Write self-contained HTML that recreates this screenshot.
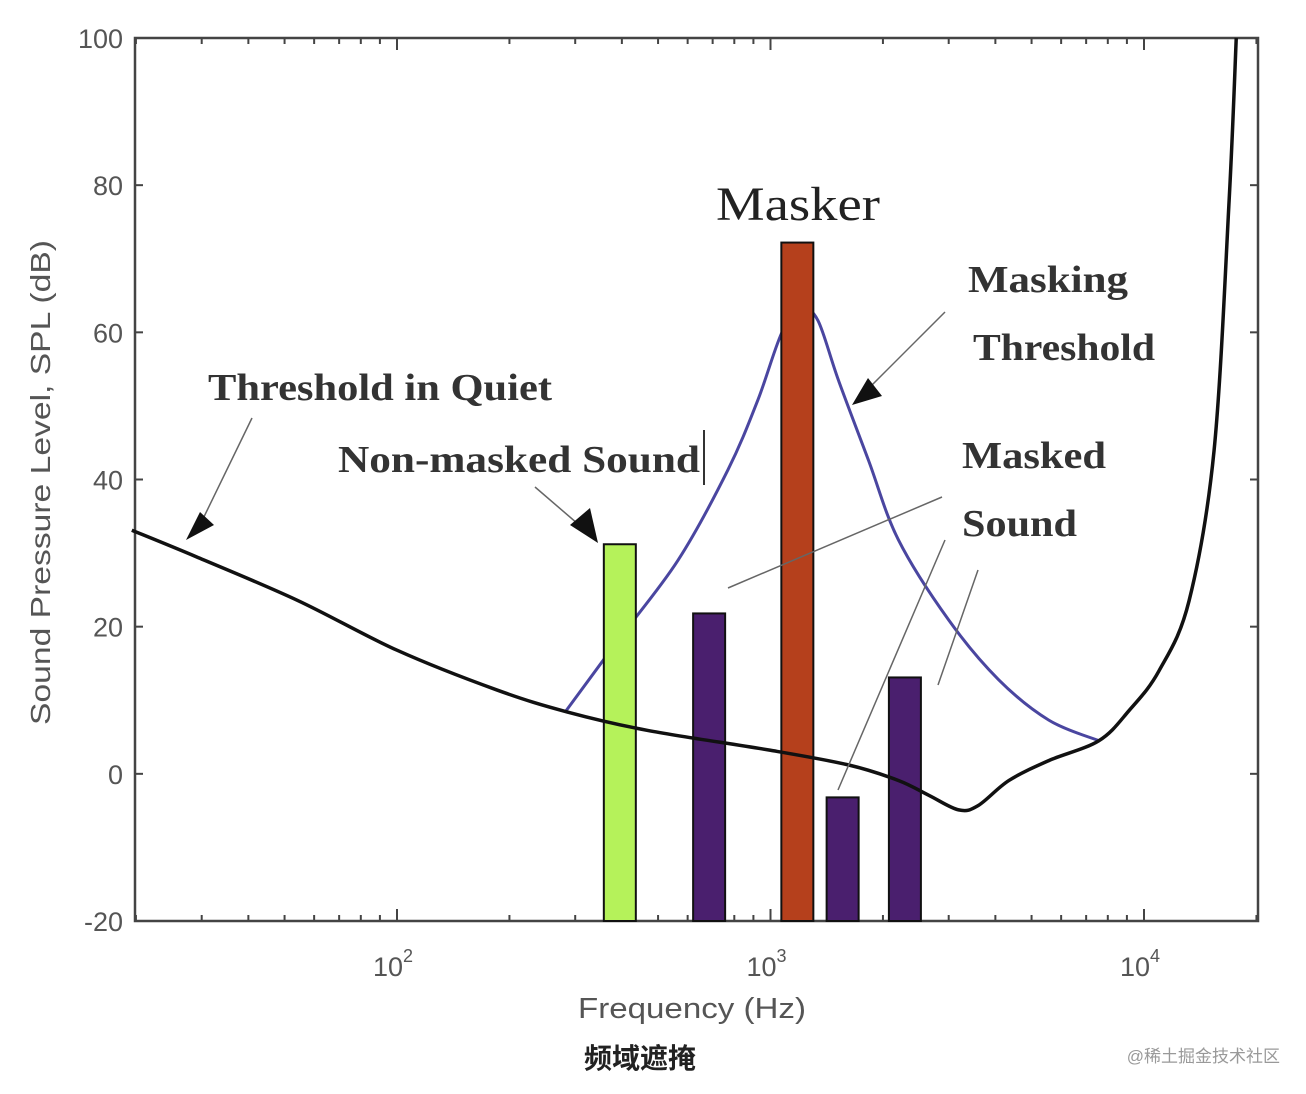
<!DOCTYPE html>
<html><head><meta charset="utf-8"><style>
body{margin:0;background:#fff;width:1306px;height:1094px;overflow:hidden}
svg{display:block}
.tk{font-family:"Liberation Sans",sans-serif;font-size:27px;fill:#555}
.an{font-family:"Liberation Serif",serif;fill:#222}
</style></head><body>
<svg id="chart" width="1306" height="1094">
<g id="grid"></g>
<g id="marks"></g>
<text class="tk" x="578" y="1018" textLength="228" lengthAdjust="spacingAndGlyphs" style="font-size:29px">Frequency (Hz)</text>
<text class="tk" transform="translate(50,725) rotate(-90)" textLength="485" lengthAdjust="spacingAndGlyphs" style="font-size:28px">Sound Pressure Level, SPL (dB)</text>
<text x="640" y="1068" text-anchor="middle" style="font-family:'Liberation Sans','Noto Sans CJK SC',sans-serif;font-size:28px;font-weight:bold;fill:#222">频域遮掩</text>
<text x="1280" y="1062" text-anchor="end" style="font-family:'Liberation Sans','Noto Sans CJK SC',sans-serif;font-size:17px;fill:#999">@稀土掘金技术社区</text>
<text class="an" x="716" y="220" textLength="164" lengthAdjust="spacingAndGlyphs" style="font-size:48px">Masker</text>
<text class="an" x="968" y="292" textLength="160" lengthAdjust="spacingAndGlyphs" style="font-size:38px;font-weight:bold;fill:#333">Masking</text>
<text class="an" x="973" y="360" textLength="182" lengthAdjust="spacingAndGlyphs" style="font-size:38px;font-weight:bold;fill:#333">Threshold</text>
<text class="an" x="208" y="400" textLength="344" lengthAdjust="spacingAndGlyphs" style="font-size:38px;font-weight:bold;fill:#333">Threshold in Quiet</text>
<text class="an" x="338" y="472" textLength="362" lengthAdjust="spacingAndGlyphs" style="font-size:38px;font-weight:bold;fill:#333">Non-masked Sound</text>
<line x1="704" y1="430" x2="704" y2="485" stroke="#333" stroke-width="2"/>
<text class="an" x="962" y="468" textLength="144" lengthAdjust="spacingAndGlyphs" style="font-size:38px;font-weight:bold;fill:#333">Masked</text>
<text class="an" x="962" y="536" textLength="115" lengthAdjust="spacingAndGlyphs" style="font-size:38px;font-weight:bold;fill:#333">Sound</text>
<g stroke="#666" stroke-width="1.5" fill="none">
<line x1="252" y1="418" x2="200" y2="525"/>
<line x1="535" y1="487" x2="585" y2="530"/>
<line x1="945" y1="312" x2="862" y2="395"/>
<line x1="942" y1="497" x2="728" y2="588"/>
<line x1="945" y1="540" x2="838" y2="790"/>
<line x1="978" y1="570" x2="938" y2="685"/>
</g>
<polygon points="186,540 214,525 200,512" fill="#111"/>
<polygon points="598,543 570,525 590,508" fill="#111"/>
<polygon points="852,405 868,378 882,396" fill="#111"/>
</svg>
<script>
const quietFreq=[19.5,29,54,100,185,286,469,1000,1620,2200,2650,3190,3600,4350,5560,7570,9120,10970,13200,15400,16900,17660];
const quietDb=[33.1,29.5,23.6,16.8,11.4,8.4,5.9,3.2,1.2,-0.9,-2.9,-4.9,-4.3,-0.9,1.8,4.5,8.6,14.0,23.5,43.9,77.9,100];
const maskFreq=[282,390,565,769,925,1080,1220,1340,1520,1830,2200,3000,4080,5560,7570];
const maskDb=[8.4,18.1,29.0,41.3,50.8,60.3,62.9,61.6,53.5,42.6,31.8,20.9,12.8,7.3,4.5];
const barFreq=[395,685,1180,1560,2290];
const barDb=[31.2,21.8,72.2,-3.2,13.1];
const barColors=['#b5f25a','#4a1f6e','#b5401c','#4a1f6e','#4a1f6e'];
const yTicks=[-20,0,20,40,60,80,100];
const xDecades=[2,3,4];
const L=135,R=1258,T=38,B=921;
const x=f=>397+(Math.log10(f)-2)*373.5;
const y=v=>B-(v+20)/120*(B-T);
const NS='http://www.w3.org/2000/svg';
function mk(tag,at,parent){const e=document.createElementNS(NS,tag);for(const k in at)e.setAttribute(k,at[k]);parent.appendChild(e);return e;}
const g=document.getElementById('grid'),m=document.getElementById('marks');
const fr=mk('rect',{x:L,y:T,width:R-L,height:B-T,fill:'none',stroke:'#444','stroke-width':2.5},g);


yTicks.forEach(v=>{
 mk('line',{x1:L,x2:L+8,y1:y(v),y2:y(v),stroke:'#444','stroke-width':2},g);
 mk('line',{x1:R,x2:R-8,y1:y(v),y2:y(v),stroke:'#444','stroke-width':2},g);
 const t=mk('text',{x:L-12,y:y(v)+10,'text-anchor':'end',class:'tk'},g);t.textContent=v;
 
 
});
for(let d=1;d<=4;d++)for(let k=1;k<=9;k++){const f=k*Math.pow(10,d);const px=x(f);if(px<L||px>R)continue;
 const len=k==1?12:6;
 mk('line',{x1:px,x2:px,y1:B,y2:B-len,stroke:'#444','stroke-width':2},g);
 mk('line',{x1:px,x2:px,y1:T,y2:T+len,stroke:'#444','stroke-width':2},g);}
xDecades.forEach(d=>{const t=mk('text',{x:x(Math.pow(10,d))-4,y:976,'text-anchor':'middle',class:'tk'},g);
 t.innerHTML='10<tspan dy="-14" style="font-size:18px">'+d+'</tspan>';
 
 });
function smooth(F,V){const p=F.map((f,i)=>[x(f),y(V[i])]);let s='M'+p[0][0]+','+p[0][1];
 for(let i=0;i<p.length-1;i++){const a=p[i-1]||p[i],b=p[i],c=p[i+1],d=p[i+2]||c;
 s+=` C${b[0]+(c[0]-a[0])/6},${b[1]+(c[1]-a[1])/6} ${c[0]-(d[0]-b[0])/6},${c[1]-(d[1]-b[1])/6} ${c[0]},${c[1]}`;}return s;}
const mc=mk('path',{d:smooth(maskFreq,maskDb),fill:'none',stroke:'#4a46a0','stroke-width':3},m);


barFreq.forEach((f,i)=>{const cx=x(f);const r=mk('rect',{x:cx-16,y:y(barDb[i]),width:32,height:B-y(barDb[i]),fill:barColors[i],stroke:'#111','stroke-width':2},m);
 
 });
const qc=mk('path',{d:smooth(quietFreq,quietDb),fill:'none',stroke:'#111','stroke-width':3.5},m);


</script>
</body></html>
